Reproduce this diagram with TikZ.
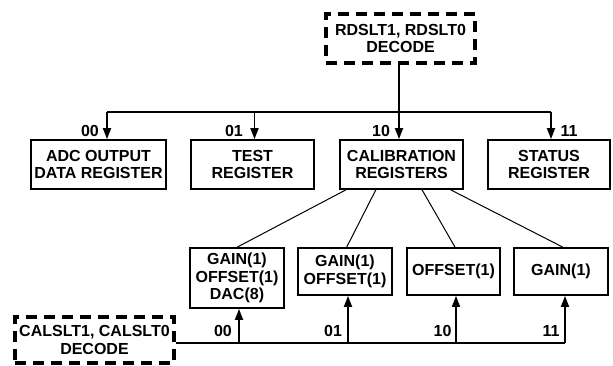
\documentclass[tikz,border=0pt]{standalone}
\usepackage{fontspec}
\setmainfont{Liberation Sans}
\usetikzlibrary{arrows.meta}
\newcommand\lblfont{\fontsize{16}{17.5}\selectfont\bfseries}
\begin{document}
\begin{tikzpicture}[x=1pt,y=-1pt,
  box/.style={draw, line width=1.8pt, inner sep=0pt, align=center, font=\lblfont},
  dbox/.style={draw, line width=3.3pt, dash pattern=on 11pt off 7pt, inner sep=0pt, align=center, font=\lblfont},
  lab/.style={inner sep=0pt, font=\lblfont},
  bus/.style={line width=1.8pt},
  arr/.style={line width=1.8pt, -{Triangle[length=11pt,width=8pt]}},
  link/.style={line width=1pt}]
\useasboundingbox (0,0) rectangle (613,366);
% top decode
\node[dbox, minimum width=149pt, minimum height=49pt] (rd) at (400.5,38.5) {RDSLT1, RDSLT0\\DECODE};
% top registers
\node[box, minimum width=135pt, minimum height=49pt] (adc) at (98.5,164.5) {ADC OUTPUT\\DATA REGISTER};
\node[box, minimum width=123pt, minimum height=49pt] (test) at (252.5,164.5) {TEST\\REGISTER};
\node[box, minimum width=123pt, minimum height=49pt] (cal) at (401.5,164.5) {CALIBRATION\\REGISTERS};
\node[box, minimum width=122pt, minimum height=49pt] (status) at (549,164.5) {STATUS\\REGISTER};
% bus coordinates
\coordinate (b0) at (107,112);
\coordinate (b1) at (254.5,112);
\coordinate (b2) at (399,112);
\coordinate (b3) at (551,112);
\draw[bus] (b2 |- rd.south) -- (b2);
\draw[bus] (b0) -- (b3);
\draw[arr] (b0) -- (b0 |- adc.north);
\draw[arr] (b1) -- (b1 |- test.north);
\draw[arr] (b2) -- (b2 |- cal.north);
\draw[arr] (b3) -- (b3 |- status.north);
\node[lab] (t00) at (90,131) {00};
\node[lab] (t01) at (234,131) {01};
\node[lab] (t10) at (381,131) {10};
\node[lab] (t11) at (569,131) {11};
% lower registers
\node[box, minimum width=94pt, minimum height=60pt] (g1) at (237,278) {GAIN(1)\\OFFSET(1)\\DAC(8)};
\node[box, minimum width=94pt, minimum height=47pt] (g2) at (345,271.5) {GAIN(1)\\OFFSET(1)};
\node[box, minimum width=93pt, minimum height=47pt] (g3) at (453.5,271.5) {OFFSET(1)};
\node[box, minimum width=94pt, minimum height=47pt] (g4) at (561,271.5) {GAIN(1)};
% links from calibration registers
\draw[link] ([xshift=6.7pt]cal.south west) -- ([xshift=0.3pt]g1.north);
\draw[link] ([xshift=36.7pt]cal.south west) -- ([xshift=1.7pt]g2.north);
\draw[link] ([xshift=83pt]cal.south west) -- ([xshift=1.5pt]g3.north);
\draw[link] ([xshift=111.7pt]cal.south west) -- ([xshift=1.7pt]g4.north);
% lower decode
\node[dbox, minimum width=159pt, minimum height=46pt] (cs) at (94.5,340) {CALSLT1, CALSLT0\\DECODE};
\coordinate (c0) at (239,343);
\coordinate (c1) at (348,343);
\coordinate (c2) at (456,343);
\coordinate (c3) at (565,343);
\draw[bus] (cs.east |- c3) -- (c3);
\draw[arr] (c0) -- (c0 |- g1.south);
\draw[arr] (c1) -- (c1 |- g2.south);
\draw[arr] (c2) -- (c2 |- g3.south);
\draw[arr] (c3) -- (c3 |- g4.south);
\node[lab] (u00) at (223,331) {00};
\node[lab] (u01) at (333,331) {01};
\node[lab] (u10) at (442.5,331) {10};
\node[lab] (u11) at (551,331) {11};
\end{tikzpicture}
\end{document}
